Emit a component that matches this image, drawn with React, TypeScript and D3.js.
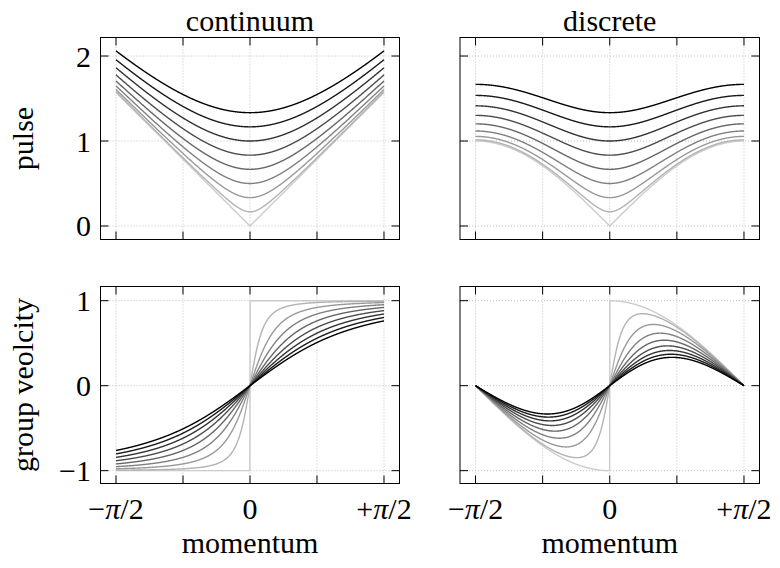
import React from "react";
import * as d3 from "d3";

// ---- data ----
const masses: number[] = [0, 1 / 6, 2 / 6, 3 / 6, 4 / 6, 5 / 6, 6 / 6, 7 / 6, 8 / 6];
const SAMPLE_COUNT = 1000;
const momenta: number[] = d3.range(SAMPLE_COUNT).map((i) => -Math.PI / 2 + (Math.PI * i) / (SAMPLE_COUNT - 1));
const columnTitles: string[] = ["continuum", "discrete"];
const rowLabels: string[] = ["pulse", "group veolcity"];
const xLabel = "momentum";
const xTickValues: number[] = [-Math.PI / 2, -Math.PI / 4, 0, Math.PI / 4, Math.PI / 2];
const xTickPrefix: string[] = ["−", "", "0", "", "+"];
const yTicksTop: number[] = [0, 1, 2];
const yTicksBottom: number[] = [-1, 0, 1];
const yTickLabelsTop: string[] = ["0", "1", "2"];
const yTickLabelsBottom: string[] = ["−1", "0", "1"];

// dispersion relations
const pulseFns = [
  (k: number, m: number) => Math.sqrt(k * k + m * m),
  (k: number, m: number) => Math.sqrt(Math.sin(k) ** 2 + m * m),
];
const velocityFns = [
  (k: number, m: number) => k / Math.sqrt(k * k + m * m),
  (k: number, m: number) => (Math.sin(k) * Math.cos(k)) / Math.sqrt(Math.sin(k) ** 2 + m * m),
];

const FONT = "Liberation Serif";
const FS = 30;

const cols = [
  [100.5, 399.5],
  [460, 759.5],
];
const rows = [
  [37.5, 239.5],
  [286.5, 483.5],
];
const pad = 0.1817;
const yDomains = [
  [-0.159, 2.218],
  [-1.151, 1.167],
];
const colorOf = d3.interpolateRgb("#cccccc", "#000000");

function Panel({ c, r }: { c: number; r: number }) {
  const [x0, x1] = cols[c];
  const [y0, y1] = rows[r];
  const x = d3.scaleLinear().domain([-Math.PI / 2 - pad, Math.PI / 2 + pad]).range([x0, x1]);
  const y = d3.scaleLinear().domain(yDomains[r]).range([y1, y0]);
  const fn = r === 0 ? pulseFns[c] : velocityFns[c];
  const yTicks = r === 0 ? yTicksTop : yTicksBottom;
  const yLabels = r === 0 ? yTickLabelsTop : yTickLabelsBottom;
  const T = 8;
  return (
    <g>
      {/* grid */}
      {xTickValues.map((v, i) => (
        <line key={"gx" + i} x1={x(v)} x2={x(v)} y1={y0} y2={y1} stroke="#b0b0b0" strokeWidth={0.8} strokeDasharray="1,2" />
      ))}
      {yTicks.map((v, i) => (
        <line key={"gy" + i} x1={x0} x2={x1} y1={y(v)} y2={y(v)} stroke="#b0b0b0" strokeWidth={0.8} strokeDasharray="1,2" />
      ))}
      {/* curves */}
      {masses.map((m, i) => {
        const gen = d3
          .line<number>()
          .x((k) => x(k))
          .y((k) => y(fn(k, m)));
        return (
          <path key={"c" + i} d={gen(momenta) || ""} fill="none" stroke={colorOf(i / (masses.length - 1))} strokeWidth={1.4} />
        );
      })}
      {/* ticks */}
      {xTickValues.map((v, i) => (
        <g key={"tx" + i}>
          <line x1={x(v)} x2={x(v)} y1={y1} y2={y1 - T} stroke="#000" strokeWidth={1} />
          <line x1={x(v)} x2={x(v)} y1={y0} y2={y0 + T} stroke="#000" strokeWidth={1} />
        </g>
      ))}
      {yTicks.map((v, i) => (
        <g key={"ty" + i}>
          <line x1={x0} x2={x0 + T} y1={y(v)} y2={y(v)} stroke="#000" strokeWidth={1} />
          <line x1={x1} x2={x1 - T} y1={y(v)} y2={y(v)} stroke="#000" strokeWidth={1} />
        </g>
      ))}
      <rect x={x0} y={y0} width={x1 - x0} height={y1 - y0} fill="none" stroke="#000" strokeWidth={1} />
      {/* tick labels */}
      {r === 1 &&
        xTickValues.map((v, i) => {
          const p = xTickPrefix[i];
          if (!p) return null;
          return (
            <text key={"lx" + i} x={x(v)} y={519} textAnchor="middle" fontFamily={FONT} fontSize={FS}>
              {p === "0" ? (
                "0"
              ) : (
                <>
                  <tspan>{p}</tspan>
                  <tspan fontStyle="italic">π</tspan>
                  <tspan>/2</tspan>
                </>
              )}
            </text>
          );
        })}
      {c === 0 &&
        yTicks.map((v, i) => (
          <text key={"ly" + i} x={91} y={y(v)} dy="0.35em" textAnchor="end" fontFamily={FONT} fontSize={FS}>
            {yLabels[i]}
          </text>
        ))}
      {r === 0 && (
        <text x={(x0 + x1) / 2} y={31} textAnchor="middle" fontFamily={FONT} fontSize={FS}>
          {columnTitles[c]}
        </text>
      )}
      {r === 1 && (
        <text x={(x0 + x1) / 2} y={553} textAnchor="middle" fontFamily={FONT} fontSize={FS}>
          {xLabel}
        </text>
      )}
      {c === 0 && (
        <text
          transform={`translate(33,${(y0 + y1) / 2}) rotate(-90)`}
          textAnchor="middle"
          fontFamily={FONT}
          fontSize={FS}
        >
          {rowLabels[r]}
        </text>
      )}
    </g>
  );
}

export default function App() {
  return (
    <svg width={780} height={568} style={{ position: "absolute", left: 0, top: 0, background: "#fff" }}>
      <rect x={0} y={0} width={780} height={568} fill="#fff" />
      {[0, 1].map((r) => [0, 1].map((c) => <Panel key={`${r}-${c}`} c={c} r={r} />))}
    </svg>
  );
}
